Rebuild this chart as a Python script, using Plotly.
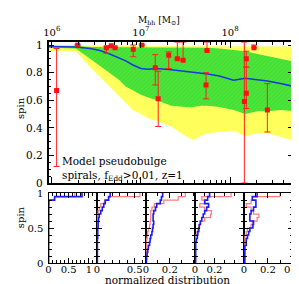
import plotly.graph_objects as go

# ---------------- main panel data ----------------
band_logm = [5.96, 6.10, 6.27, 6.43, 6.54, 6.65, 6.75, 6.83, 6.91, 7.00, 7.08, 7.18,
             7.34, 7.50, 7.59, 7.67, 7.75, 7.88, 8.04, 8.17, 8.31, 8.42, 8.58, 8.71]
yellow_top = [0.995, 0.995, 0.995, 0.995, 0.995, 0.995, 0.995, 0.995, 0.995, 0.995, 0.995, 0.995,
              0.995, 0.995, 0.995, 0.995, 0.995, 0.995, 0.995, 0.995, 0.993, 0.992, 0.99, 0.99]
green_top = [0.995, 0.995, 0.995, 0.985, 0.985, 0.985, 0.985, 0.985, 0.985, 0.985, 0.985, 0.985,
             0.98, 0.98, 0.98, 0.98, 0.98, 0.975, 0.965, 0.955, 0.935, 0.92, 0.90, 0.88]
median_spin = [0.99, 0.99, 0.985, 0.975, 0.96, 0.935, 0.91, 0.885, 0.855, 0.83, 0.825, 0.83,
               0.82, 0.81, 0.805, 0.80, 0.79, 0.775, 0.745, 0.76, 0.75, 0.74, 0.72, 0.70]
green_bottom = [0.98, 0.98, 0.975, 0.90, 0.85, 0.80, 0.75, 0.70, 0.67, 0.64, 0.62, 0.60,
                0.56, 0.55, 0.55, 0.56, 0.56, 0.55, 0.53, 0.50, 0.52, 0.52, 0.53, 0.52]
yellow_bottom = [0.96, 0.96, 0.955, 0.84, 0.77, 0.70, 0.63, 0.58, 0.53, 0.50, 0.47, 0.45,
                 0.41, 0.34, 0.31, 0.34, 0.36, 0.37, 0.38, 0.34, 0.36, 0.36, 0.33, 0.31]

obs_logm = [6.054, 6.29, 6.613, 6.667, 6.71, 6.914, 7.01, 7.161, 7.194, 7.312, 7.409, 7.473,
            7.742, 7.731, 8.183, 8.183, 8.161, 8.269, 8.419]
obs_spin = [0.67, 1.0, 0.98, 0.995, 0.98, 0.97, 1.0, 0.835, 0.61, 0.925, 0.90, 0.89,
            0.96, 0.71, 0.90, 0.65, 0.59, 0.98, 0.53]
obs_hi = [0.975, 1.0, 0.99, 0.995, 0.98, 1.0, 1.0, 0.93, 0.81, 0.95, 1.02, 1.02,
          1.02, 0.80, 0.955, 0.84, 1.02, 1.0, 0.72]
obs_lo = [0.12, 1.0, 0.94, 0.995, 0.98, 0.915, 1.0, 0.71, 0.41, 0.83, 0.90, 0.89,
          0.96, 0.61, 0.84, 0.54, 0.0, 0.98, 0.37]

# ---------------- histogram data (spin bins 0-0.05 ... 0.95-1) ----------------
spin_edges = [0.0, 0.05, 0.10, 0.15, 0.20, 0.25, 0.30, 0.35, 0.40, 0.45, 0.50,
              0.55, 0.60, 0.65, 0.70, 0.75, 0.80, 0.85, 0.90, 0.95, 1.0]
blue_p1 = [0.002, 0.002, 0.002, 0.002, 0.002, 0.002, 0.002, 0.002, 0.002, 0.002,
           0.002, 0.002, 0.002, 0.002, 0.002, 0.002, 0.003, 0.005, 0.15, 0.83]
red_p1 = [0.003, 0.003, 0.003, 0.003, 0.005, 0.005, 0.008, 0.008, 0.01, 0.01,
          0.012, 0.012, 0.015, 0.015, 0.015, 0.015, 0.02, 0.02, 0.15, 0.65]
blue_p2 = [0.005, 0.005, 0.005, 0.005, 0.005, 0.005, 0.005, 0.01, 0.01, 0.01,
           0.015, 0.015, 0.02, 0.03, 0.05, 0.07, 0.09, 0.11, 0.155, 0.175]
red_p2 = [0.003, 0.003, 0.003, 0.003, 0.003, 0.003, 0.003, 0.003, 0.003, 0.003,
          0.008, 0.008, 0.008, 0.008, 0.015, 0.03, 0.05, 0.10, 0.15, 0.57]
blue_p3 = [0.003, 0.005, 0.01, 0.015, 0.02, 0.03, 0.035, 0.04, 0.05, 0.055,
           0.06, 0.065, 0.06, 0.06, 0.065, 0.08, 0.09, 0.12, 0.13, 0.14]
red_p3 = [0.005, 0.005, 0.005, 0.005, 0.005, 0.005, 0.005, 0.01, 0.015, 0.02,
          0.03, 0.035, 0.04, 0.04, 0.04, 0.05, 0.07, 0.15, 0.27, 0.33]
blue_p4 = [0.008, 0.008, 0.008, 0.008, 0.008, 0.008, 0.015, 0.025, 0.03, 0.04,
           0.045, 0.055, 0.07, 0.085, 0.10, 0.12, 0.14, 0.10, 0.13, 0.15]
red_p4 = [0.005, 0.005, 0.005, 0.005, 0.005, 0.005, 0.005, 0.005, 0.02, 0.03,
          0.04, 0.06, 0.10, 0.16, 0.17, 0.10, 0.05, 0.10, 0.07, 0.37]
blue_p5 = [0.008, 0.008, 0.008, 0.008, 0.008, 0.02, 0.02, 0.03, 0.04, 0.05,
           0.075, 0.08, 0.05, 0.05, 0.06, 0.08, 0.10, 0.10, 0.07, 0.11]
red_p5 = [0.008, 0.008, 0.008, 0.008, 0.008, 0.008, 0.008, 0.008, 0.02, 0.03,
          0.06, 0.07, 0.11, 0.125, 0.08, 0.06, 0.02, 0.06, 0.07, 0.30]

hist_ranges = [[0, 1.2], [0, 0.65], [0, 0.41], [0, 0.5], [0, 0.41]]
hist_ticks = [[0, 0.5, 1], [0, 0.5], [0, 0.2], [0, 0.2], [0, 0.2, 0.4]]
hist_ticktext = [["0", "0.5", "1"], ["0", "0.5"], ["0", "0.2"], ["0", "0.2"], ["0", "0.2", "0.4"]]
hist_minor = [0.1, 0.1, 0.1, 0.1, 0.1]

# ---------------- styling ----------------
W, H = 299, 284
FONT = "DejaVu Serif"
YELLOW = "#ffff55"
GREEN = "#44e034"
def px(v, total):
    return v / total

fig = go.Figure()
M = [10 ** v for v in band_logm]
fig.add_trace(go.Scatter(x=M, y=yellow_bottom, mode="lines", line=dict(width=0),
                         showlegend=False, hoverinfo="skip"))
fig.add_trace(go.Scatter(x=M, y=yellow_top, mode="lines", line=dict(width=0), fill="tonexty",
                         fillcolor=YELLOW,
                         fillpattern=dict(shape="/", fgcolor="#ffffa8", bgcolor=YELLOW, size=3, solidity=0.25),
                         showlegend=False, hoverinfo="skip"))
fig.add_trace(go.Scatter(x=M, y=green_bottom, mode="lines", line=dict(width=0),
                         showlegend=False, hoverinfo="skip"))
fig.add_trace(go.Scatter(x=M, y=green_top, mode="lines", line=dict(width=0), fill="tonexty",
                         fillcolor=GREEN,
                         fillpattern=dict(shape="/", fgcolor="#7cf060", bgcolor=GREEN, size=3, solidity=0.25),
                         showlegend=False, hoverinfo="skip"))
fig.add_trace(go.Scatter(x=M, y=median_spin, mode="lines", line=dict(color="#1838e0", width=1.5),
                         showlegend=False))
fig.add_trace(go.Scatter(
    x=[10 ** v for v in obs_logm], y=obs_spin, mode="markers",
    marker=dict(symbol="square", size=5, color="#ff1010"),
    error_y=dict(type="data", symmetric=False,
                 array=[h - s for h, s in zip(obs_hi, obs_spin)],
                 arrayminus=[s - l for s, l in zip(obs_spin, obs_lo)],
                 color="#ff2020", thickness=1, width=3),
    showlegend=False, cliponaxis=True))

# histogram panels
panel_x = [37, 87.5, 138.5, 189.5, 240.5, 292]
blues = [blue_p1, blue_p2, blue_p3, blue_p4, blue_p5]
reds = [red_p1, red_p2, red_p3, red_p4, red_p5]
for k in range(5):
    xa = "x%d" % (k + 2)
    ya = "y%d" % (k + 2)
    fig.add_trace(go.Scatter(x=reds[k] + [reds[k][-1]], y=spin_edges, mode="lines", line_shape="vh",
                             line=dict(color="#ff7b7b", width=1.2), xaxis=xa, yaxis=ya, showlegend=False))
    fig.add_trace(go.Scatter(x=blues[k] + [blues[k][-1]], y=spin_edges, mode="lines", line_shape="vh",
                             line=dict(color="#1a1aff", width=1.6), xaxis=xa, yaxis=ya, showlegend=False))

axis_common = dict(showline=True, linecolor="black", linewidth=1.5, mirror="ticks", ticks="inside",
                   tickcolor="black", showgrid=False, zeroline=False,
                   tickfont=dict(family=FONT, size=11, color="black"))

layout = dict(
    width=W, height=H, margin=dict(l=0, r=0, t=0, b=0),
    paper_bgcolor="white", plot_bgcolor="white", showlegend=False,
    xaxis=dict(axis_common, type="log", range=[5.963, 8.71], domain=[px(37, W), px(292, W)],
               side="top", anchor="y", tickvals=[1e6, 1e7, 1e8],
               ticktext=["10<sup>6</sup>", "10<sup>7</sup>", "10<sup>8</sup>"], ticklen=6, ticklabelstandoff=1,
               tickfont=dict(family=FONT, size=10, color="black"),
               minor=dict(ticks="inside", ticklen=3, tickcolor="black",
                          tickvals=[2e6, 3e6, 4e6, 5e6, 6e6, 7e6, 8e6, 9e6,
                                    2e7, 3e7, 4e7, 5e7, 6e7, 7e7, 8e7, 9e7,
                                    2e8, 3e8, 4e8, 5e8])),
    yaxis=dict(axis_common, range=[0, 1.02], domain=[1 - 176.5 / H, 1 - 29.5 / H], anchor="x",
               tickvals=[0, 0.2, 0.4, 0.6, 0.8, 1.0], ticktext=["0", "0.2", "0.4", "0.6", "0.8", "1"],
               ticklen=6, ticklabelstandoff=2, tickfont=dict(family=FONT, size=10.5, color="black"),
               minor=dict(ticks="inside", ticklen=3, dtick=0.05, tickcolor="black")),
)
for k in range(5):
    layout["xaxis%d" % (k + 2)] = dict(
        axis_common, linewidth=1.2, range=hist_ranges[k],
        domain=[px(panel_x[k], W), px(panel_x[k + 1], W)], anchor="y%d" % (k + 2),
        tickvals=hist_ticks[k], ticktext=hist_ticktext[k], ticklen=5, ticklabelstandoff=-3,
        tickfont=dict(family=FONT, size=10, color="black"),
        minor=dict(ticks="inside", ticklen=3, dtick=hist_minor[k], tickcolor="black"))
    layout["yaxis%d" % (k + 2)] = dict(
        axis_common, linewidth=1.2, range=[0, 1], domain=[1 - 260 / H, 1 - 187 / H],
        anchor="x%d" % (k + 2), tickvals=[0, 0.5, 1], ticktext=["0", "0.5", "1"],
        showticklabels=(k == 0), ticklen=5, ticklabelstandoff=2,
        tickfont=dict(family=FONT, size=10, color="black"),
        minor=dict(ticks="inside", ticklen=3, dtick=0.1, tickcolor="black"))

fig.update_layout(**layout)

fig.add_annotation(text="M<sub>bh</sub> [M<sub>⊙</sub>]", xref="paper", yref="paper",
                   x=152 / W, y=1 - 7 / H, showarrow=False, xanchor="center",
                   font=dict(family=FONT, size=9, color="black"), yanchor="middle")
fig.add_annotation(text="spin", xref="paper", yref="paper", x=8 / W, y=1 - 85 / H, xanchor="center",
                   showarrow=False, font=dict(family=FONT, size=10, color="black"), textangle=-90)
fig.add_annotation(text="spin", xref="paper", yref="paper", x=8 / W, y=1 - 226 / H, xanchor="center",
                   showarrow=False, font=dict(family=FONT, size=10, color="black"), textangle=-90)
fig.add_annotation(text="normalized distribution", xref="paper", yref="paper", x=161 / W, y=0,
                   xanchor="center", showarrow=False, font=dict(family=FONT, size=10.5, color="black"),
                   yanchor="bottom", yshift=-1, borderpad=0)
fig.add_annotation(text="Model pseudobulge<br>spirals, f<sub>Edd</sub>>0.01, z=1", xref="paper", yref="paper",
                   x=49 / W, y=1 - 145 / H, xanchor="left", yanchor="top", align="left",
                   showarrow=False, font=dict(family=FONT, size=10.5, color="black"))

fig.write_html("out.html")
